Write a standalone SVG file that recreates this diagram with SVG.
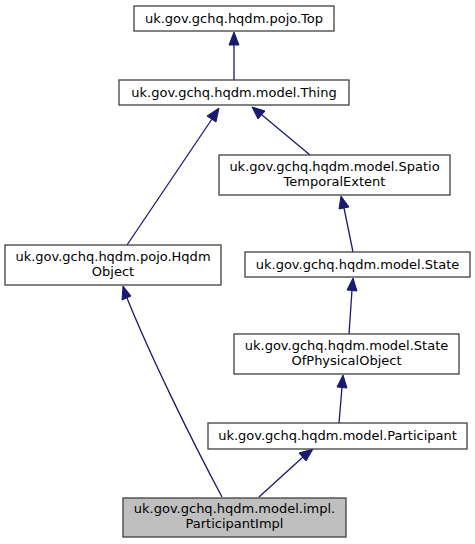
<svg xmlns="http://www.w3.org/2000/svg" width="475" height="544" viewBox="0 0 475 544">
<style>
.n rect{fill:#ffffff;stroke:#404040;stroke-width:1.3}
.n.cur rect{fill:#bfbfbf}
.n text{font-family:"DejaVu Sans",sans-serif;font-size:13px;fill:#000000;text-anchor:middle}
.e path{fill:none;stroke:#191970;stroke-width:1.3}
.e polygon{fill:#191970;stroke:#191970;stroke-width:1}
</style>
<rect width="475" height="544" fill="#ffffff"/>
<g id="connectors" class="e">
  <path d="M234,80 L234,44"/>
  <polygon points="234,32 229,45 239,45"/>
  <path d="M310,155 L262,115"/>
  <polygon points="252,107 258,119 265,111"/>
  <path d="M127,245 L212,119"/>
  <polygon points="219,108 207,116 216,122"/>
  <path d="M353,252 L344,208"/>
  <polygon points="341,196 339,209 349,207"/>
  <path d="M349,334 L352,290"/>
  <polygon points="353,278 347,290 357,291"/>
  <path d="M339,423 L342,387"/>
  <polygon points="343,375 337,387 347,388"/>
  <path d="M259,497 L303,457"/>
  <polygon points="313,449 299,453 306,461"/>
  <path d="M222,497 C190,437 150,355 127,298"/>
  <polygon points="123,286 122,300 131,296"/>
</g>
<g id="node-top" class="n">
  <rect x="134" y="6" width="200" height="25"/>
  <text x="234" y="23">uk.gov.gchq.hqdm.pojo.Top</text>
</g>
<g id="node-thing" class="n">
  <rect x="119" y="80" width="230" height="25"/>
  <text x="234" y="97">uk.gov.gchq.hqdm.model.Thing</text>
</g>
<g id="node-spatio" class="n">
  <rect x="219" y="155" width="231" height="40"/>
  <text x="334.5" y="171">uk.gov.gchq.hqdm.model.Spatio</text>
  <text x="334.5" y="186">TemporalExtent</text>
</g>
<g id="node-hqdmobject" class="n">
  <rect x="5" y="245" width="216" height="40"/>
  <text x="113" y="261">uk.gov.gchq.hqdm.pojo.Hqdm</text>
  <text x="113" y="276">Object</text>
</g>
<g id="node-state" class="n">
  <rect x="245" y="252" width="225" height="25"/>
  <text x="357.5" y="269">uk.gov.gchq.hqdm.model.State</text>
</g>
<g id="node-sopo" class="n">
  <rect x="234" y="334" width="225" height="40"/>
  <text x="346.5" y="350">uk.gov.gchq.hqdm.model.State</text>
  <text x="346.5" y="365">OfPhysicalObject</text>
</g>
<g id="node-participant" class="n">
  <rect x="208" y="423" width="259" height="26"/>
  <text x="337.5" y="440">uk.gov.gchq.hqdm.model.Participant</text>
</g>
<g id="node-impl" class="n cur">
  <rect x="123" y="498" width="223" height="39"/>
  <text x="234.5" y="513">uk.gov.gchq.hqdm.model.impl.</text>
  <text x="234.5" y="528">ParticipantImpl</text>
</g>
</svg>
